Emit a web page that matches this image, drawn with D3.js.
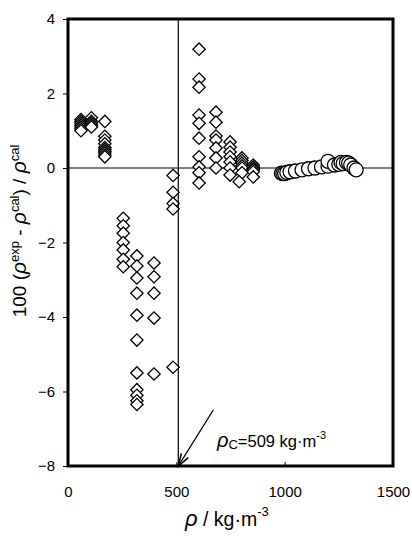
<!DOCTYPE html>
<html>
<head>
<meta charset="utf-8">
<script src="https://cdn.jsdelivr.net/npm/d3@7"></script>
<style>
  body { margin: 0; background: #fff; }
  svg { display: block; }
  text { font-family: "Liberation Sans", Arial, sans-serif; fill: #000; }
</style>
</head>
<body>
<div id="chart"></div>
<script>
(function () {
  "use strict";

  // diamonds: [density kg/m3, 100*(exp-cal)/cal]
  const diamonds = [
    [60, 1.3], [60, 1.25], [60, 1.2], [60, 1.15], [60, 1.1], [60, 1.05], [60, 1.0],
    [108, 1.35], [108, 1.25], [108, 1.2], [108, 1.15], [108, 1.1],
    [170, 1.25], [170, 0.85], [170, 0.75], [170, 0.65], [170, 0.55], [170, 0.5],
    [170, 0.45], [170, 0.4], [170, 0.35], [170, 0.3],
    [255, -1.35], [255, -1.55], [255, -1.75], [255, -2.0], [255, -2.2], [255, -2.45], [255, -2.65],
    [318, -2.36], [318, -2.63], [318, -2.95], [318, -3.36], [318, -3.95], [318, -4.62],
    [318, -5.5], [318, -5.95], [318, -6.1], [318, -6.25], [318, -6.35],
    [397, -2.55], [397, -2.92], [397, -3.36], [397, -4.03], [397, -5.53],
    [485, -0.2], [485, -0.65], [485, -0.95], [485, -1.1], [485, -5.35],
    [605, 3.19], [605, 2.39], [605, 2.17], [605, 1.42], [605, 1.2], [605, 0.8],
    [605, 0.3], [605, 0.03], [605, -0.13], [605, -0.4],
    [683, 1.5], [683, 1.23], [683, 0.86], [683, 0.75], [683, 0.54], [683, 0.27], [683, 0.0],
    [748, 0.7], [748, 0.56], [748, 0.43], [748, 0.3], [748, 0.16], [748, 0.0], [748, -0.19],
    [803, 0.27], [803, 0.2], [803, 0.13], [803, 0.06], [803, 0.0], [803, -0.13], [790, -0.37],
    [855, 0.08], [855, 0.03], [855, -0.02], [855, -0.05], [855, -0.1], [855, -0.24]
  ];

  // circles: [density kg/m3, 100*(exp-cal)/cal]
  const circles = [
    [985, -0.14], [992, -0.15], [1000, -0.15], [1010, -0.12], [1025, -0.1], [1050, -0.08],
    [1080, -0.05], [1110, -0.02], [1140, 0.0], [1170, 0.03], [1200, 0.05], [1200, 0.18],
    [1230, 0.08], [1250, 0.1], [1260, 0.15], [1270, 0.12], [1285, 0.15],
    [1295, 0.13], [1305, 0.08], [1320, 0.0], [1330, -0.05]
  ];

  const xTicks = [0, 500, 1000, 1500];
  const yTicks = [-8, -6, -4, -2, 0, 2, 4];
  const criticalDensity = 509;

  const width = 412;
  const height = 536;
  const margin = { left: 68, top: 19, right: 19, bottom: 70 };

  const svg = d3.select("#chart").append("svg")
    .attr("width", width)
    .attr("height", height);

  const x = d3.scaleLinear().domain([0, 1500]).range([margin.left, width - margin.right]);
  const y = d3.scaleLinear().domain([-8, 4]).range([height - margin.bottom, margin.top]);

  // reference lines
  svg.append("line")
    .attr("x1", x(0)).attr("x2", x(1500))
    .attr("y1", y(0)).attr("y2", y(0))
    .attr("stroke", "#000").attr("stroke-width", 1);
  svg.append("line")
    .attr("x1", x(criticalDensity)).attr("x2", x(criticalDensity))
    .attr("y1", y(4)).attr("y2", y(-8))
    .attr("stroke", "#000").attr("stroke-width", 1.2);

  // y axis ticks
  const yAxis = svg.append("g")
    .attr("transform", `translate(${x(0)},0)`)
    .call(d3.axisLeft(y).tickValues(yTicks).tickSize(5).tickPadding(8).tickFormat(d3.format("d")));
  yAxis.select(".domain").remove();
  yAxis.selectAll("text").attr("font-size", 15).attr("font-family", "Liberation Sans, Arial, sans-serif");

  // x axis ticks (inside)
  const xAxis = svg.append("g")
    .attr("transform", `translate(0,${y(-8)})`)
    .call(d3.axisBottom(x).tickValues(xTicks).tickSize(-4).tickPadding(20).tickFormat(d3.format("d")));
  xAxis.select(".domain").remove();
  xAxis.selectAll("text").attr("font-size", 15).attr("font-family", "Liberation Sans, Arial, sans-serif");

  // data
  const diamondSym = d3.symbol(d3.symbolSquare, 76);
  svg.append("g").selectAll("path")
    .data(diamonds)
    .join("path")
    .attr("d", diamondSym)
    .attr("transform", (d) => `translate(${x(d[0])},${y(d[1])}) rotate(45)`)
    .attr("fill", "#fff")
    .attr("stroke", "#000")
    .attr("stroke-width", 1.3);

  svg.append("g").selectAll("circle")
    .data(circles)
    .join("circle")
    .attr("cx", (d) => x(d[0]))
    .attr("cy", (d) => y(d[1]))
    .attr("r", 7)
    .attr("fill", "#fff")
    .attr("stroke", "#000")
    .attr("stroke-width", 1.3);

  // frame
  svg.append("rect")
    .attr("x", x(0)).attr("y", y(4))
    .attr("width", x(1500) - x(0))
    .attr("height", y(-8) - y(4))
    .attr("fill", "none")
    .attr("stroke", "#000")
    .attr("stroke-width", 3);

  // arrow to critical density
  const tipX = x(criticalDensity), tipY = y(-8);
  const startX = tipX + 35, startY = tipY - 56;
  const ang = Math.atan2(startY - tipY, startX - tipX);
  const headLen = 13, spread = 0.32;
  svg.append("line")
    .attr("x1", startX).attr("y1", startY)
    .attr("x2", tipX).attr("y2", tipY)
    .attr("stroke", "#000").attr("stroke-width", 1.3);
  svg.append("path")
    .attr("d", `M${tipX + headLen * Math.cos(ang - spread)},${tipY + headLen * Math.sin(ang - spread)}L${tipX},${tipY}L${tipX + headLen * Math.cos(ang + spread)},${tipY + headLen * Math.sin(ang + spread)}`)
    .attr("fill", "none").attr("stroke", "#000").attr("stroke-width", 1.6);

  // annotation
  const ann = svg.append("text").attr("x", 217).attr("y", 447);
  ann.append("tspan").attr("font-size", 20).attr("font-style", "italic").text("ρ");
  ann.append("tspan").attr("font-size", 13).attr("dy", 2).text("C");
  ann.append("tspan").attr("font-size", 16.5).attr("dy", -2).text("=509 kg·m");
  ann.append("tspan").attr("font-size", 11).attr("dy", -8).text("-3");

  // x title
  const xt = svg.append("text").attr("x", 185).attr("y", 526);
  xt.append("tspan").attr("font-size", 22).attr("font-style", "italic").text("ρ");
  xt.append("tspan").attr("font-size", 19.5).text(" / kg·m");
  xt.append("tspan").attr("font-size", 13).attr("dy", -10).text("-3");

  // y title
  const yt = svg.append("text")
    .attr("transform", "translate(26,231) rotate(-90)")
    .attr("text-anchor", "middle");
  yt.append("tspan").attr("font-size", 19).text("100 (");
  yt.append("tspan").attr("font-size", 21).attr("font-style", "italic").text("ρ");
  yt.append("tspan").attr("font-size", 13).attr("dy", -7).text("exp");
  yt.append("tspan").attr("font-size", 19).attr("dy", 7).text(" - ");
  yt.append("tspan").attr("font-size", 21).attr("font-style", "italic").text("ρ");
  yt.append("tspan").attr("font-size", 13).attr("dy", -7).text("cal");
  yt.append("tspan").attr("font-size", 19).attr("dy", 7).text(") / ");
  yt.append("tspan").attr("font-size", 21).attr("font-style", "italic").text("ρ");
  yt.append("tspan").attr("font-size", 13).attr("dy", -7).text("cal");
})();
</script>
</body>
</html>
